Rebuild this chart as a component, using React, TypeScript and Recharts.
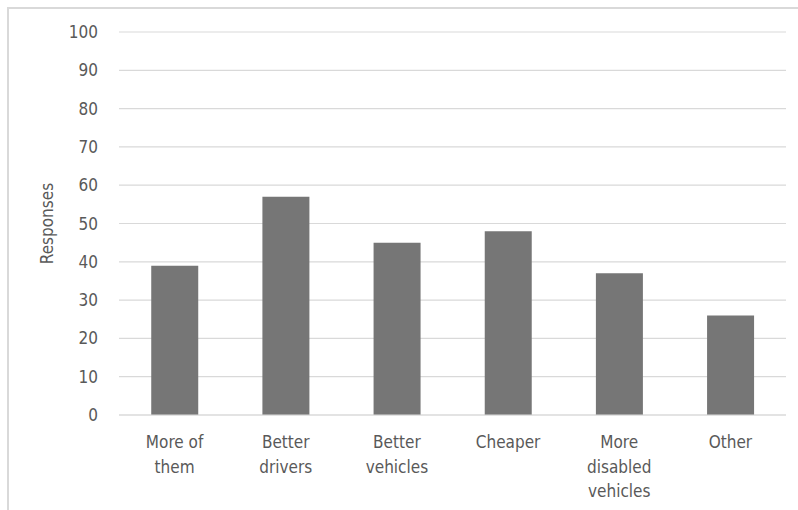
import { BarChart, Bar, XAxis, YAxis, CartesianGrid } from "recharts";

const categories = [
  "More of them",
  "Better drivers",
  "Better vehicles",
  "Cheaper",
  "More disabled vehicles",
  "Other",
];
const labelLines = [
  ["More of", "them"],
  ["Better", "drivers"],
  ["Better", "vehicles"],
  ["Cheaper"],
  ["More", "disabled", "vehicles"],
  ["Other"],
];
const responses = [39, 57, 45, 48, 37, 26];
const yTicks = [0, 10, 20, 30, 40, 50, 60, 70, 80, 90, 100];

const data = categories.map((name, i) => ({ name, value: responses[i] }));

const FONT = '"Liberation Sans Narrow", "DejaVu Sans Condensed", "Open Sans", sans-serif';
const TEXT = "#595959";

function YTick(props: any) {
  const { x, y, payload } = props;
  return (
    <text x={x - 13} y={y} dy={6} textAnchor="end" fill={TEXT} fontSize={17} fontFamily={FONT}>
      {payload.value}
    </text>
  );
}

function XTick(props: any) {
  const { x, y, index } = props;
  const lines = labelLines[index] || [];
  return (
    <text x={x} y={y} textAnchor="middle" fill={TEXT} fontSize={17} fontFamily={FONT}>
      {lines.map((l: string, i: number) => (
        <tspan key={i} x={x} y={y + 25 + i * 24.5}>
          {l}
        </tspan>
      ))}
    </text>
  );
}

export default function App() {
  return (
    <div style={{ position: "absolute", left: 0, top: 0, width: 798, height: 510, background: "#fff" }}>
      <div
        style={{
          position: "absolute",
          left: 7,
          top: 7,
          width: 800,
          height: 510,
          borderLeft: "2px solid #d9d9d9",
          borderTop: "2px solid #d9d9d9",
          boxSizing: "border-box",
        }}
      />
      <BarChart
        width={798}
        height={510}
        data={data}
        margin={{ top: 32, right: 12, bottom: 65, left: 0 }}
        barCategoryGap="29%"
        style={{ position: "absolute", left: 0, top: 0 }}
      >
        <CartesianGrid vertical={false} stroke="#d9d9d9" strokeWidth={1.2} />
        <XAxis
          dataKey="name"
          axisLine={{ stroke: "#d9d9d9", strokeWidth: 1.2 }}
          tickLine={false}
          interval={0}
          tick={<XTick />}
        />
        <YAxis
          width={119}
          domain={[0, 100]}
          ticks={yTicks}
          axisLine={false}
          tickLine={false}
          tick={<YTick />}
          label={{
            value: "Responses",
            angle: -90,
            position: "insideLeft",
            dx: 42,
            dy: 0,
            fill: TEXT,
            fontSize: 17,
            fontFamily: FONT,
            style: { textAnchor: "middle" },
          }}
        />
        <Bar dataKey="value" fill="#767676" isAnimationActive={false} />
      </BarChart>
    </div>
  );
}
